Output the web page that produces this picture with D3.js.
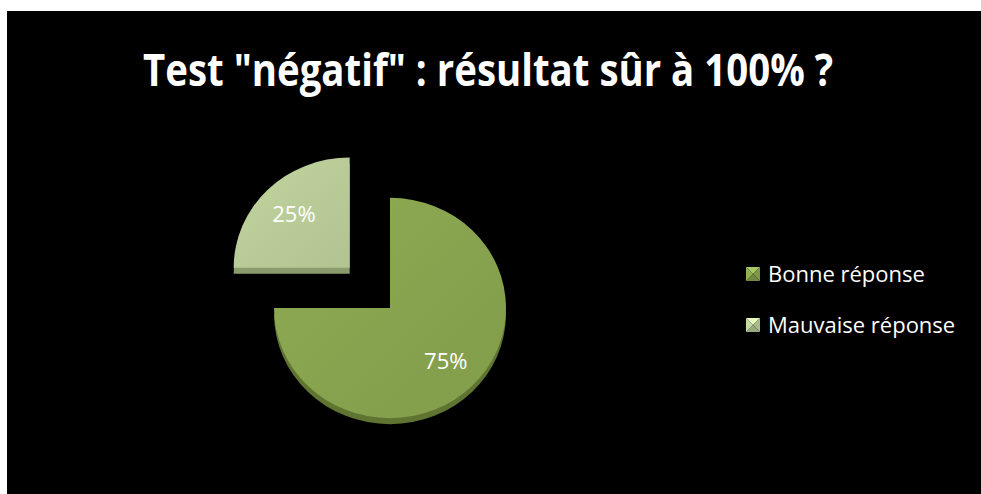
<!DOCTYPE html>
<html>
<head>
<meta charset="utf-8">
<script src="https://cdn.jsdelivr.net/npm/d3@7"></script>
<style>
  body { margin: 0; background: #fff; }
  svg { display: block; }
</style>
</head>
<body>
<svg id="chart"></svg>
<script>
// chart data
var categories = ["Bonne réponse", "Mauvaise réponse"];
var values = [75, 25];
var labels = ["75%", "25%"];
var title = "Test \"négatif\" : résultat sûr à 100% ?";

var width = 981, height = 494;
var svg = d3.select("#chart").attr("width", width).attr("height", height);

// black plate (white margin on top and left like the capture)
svg.append("rect")
  .attr("x", 7).attr("y", 11)
  .attr("width", width - 7).attr("height", height - 11)
  .attr("fill", "#000");

// colours: face, side
var faces = ["#87a24e", "#b7ca96"];
var sides = ["#5f7431", "#8a9c6c"];

var defs = svg.append("defs");
faces.forEach(function (c, i) {
  var g = defs.append("linearGradient")
    .attr("id", "grad" + i)
    .attr("x1", "0%").attr("y1", "0%").attr("x2", "100%").attr("y2", "100%");
  g.append("stop").attr("offset", "0%").attr("stop-color", d3.color(c).brighter(0.15));
  g.append("stop").attr("offset", "100%").attr("stop-color", d3.color(c).darker(0.1));
});

// title
svg.append("text")
  .attr("x", 488).attr("y", 86)
  .attr("text-anchor", "middle")
  .attr("fill", "#fff")
  .style("font-family", "'Open Sans', sans-serif")
  .style("font-weight", "bold")
  .style("font-size", "44px")
  .attr("textLength", 690)
  .attr("lengthAdjust", "spacingAndGlyphs")
  .text(title);

// pie (slightly tilted, like the 3D original)
var radius = 116;
var tilt = 0.95;
var cx = 390, cy = 308;
var explode = [0, 57];
var depth = 6;

var pie = d3.pie().sort(null).value(function (d) { return d; });
var arc = d3.arc().innerRadius(0).outerRadius(radius);
var labelArc = d3.arc().innerRadius(radius * 0.68).outerRadius(radius * 0.68);

var arcs = pie(values);

function offset(d, i) {
  var a = (d.startAngle + d.endAngle) / 2;
  return [Math.sin(a) * explode[i], -Math.cos(a) * explode[i]];
}

var slices = svg.append("g")
  .attr("transform", "translate(" + cx + "," + cy + ")")
  .selectAll("g")
  .data(arcs)
  .enter()
  .append("g")
  .attr("transform", function (d, i) {
    var o = offset(d, i);
    return "translate(" + o[0] + "," + o[1] + ")";
  });

// side of the 3D slice
slices.append("path")
  .attr("d", arc)
  .attr("transform", "translate(0," + depth + ") scale(1," + tilt + ")")
  .attr("fill", function (d, i) { return sides[i]; });

// top face
slices.append("path")
  .attr("d", arc)
  .attr("transform", "scale(1," + tilt + ")")
  .attr("fill", function (d, i) { return "url(#grad" + i + ")"; });

slices.append("text")
  .attr("transform", function (d) {
    var c = labelArc.centroid(d);
    return "translate(" + c[0] + "," + (c[1] * tilt) + ")";
  })
  .attr("text-anchor", "middle")
  .attr("dy", "0.35em")
  .attr("fill", "#fff")
  .style("font-family", "'Open Sans', sans-serif")
  .style("font-size", "22px")
  .text(function (d, i) { return labels[i]; });

// legend
var legend = svg.append("g")
  .attr("transform", "translate(746,267)")
  .selectAll("g")
  .data(categories)
  .enter()
  .append("g")
  .attr("transform", function (d, i) { return "translate(0," + (i * 51) + ")"; });

var s = 14;
legend.each(function (d, i) {
  var g = d3.select(this);
  var base = d3.color(faces[i]);
  var tris = [
    { p: [[0, 0], [s, 0], [s / 2, s / 2]], c: base.brighter(0.6) },
    { p: [[s, 0], [s, s], [s / 2, s / 2]], c: base.darker(0.2) },
    { p: [[0, s], [s, s], [s / 2, s / 2]], c: base.darker(0.5) },
    { p: [[0, 0], [0, s], [s / 2, s / 2]], c: base.brighter(0.2) }
  ];
  tris.forEach(function (t) {
    g.append("path")
      .attr("d", "M" + t.p.join("L") + "Z")
      .attr("fill", t.c);
  });
});

legend.append("text")
  .attr("x", 22)
  .attr("y", 15)
  .attr("fill", "#fff")
  .style("font-family", "'Open Sans', sans-serif")
  .style("font-size", "22px")
  .text(function (d) { return d; });
</script>
</body>
</html>
